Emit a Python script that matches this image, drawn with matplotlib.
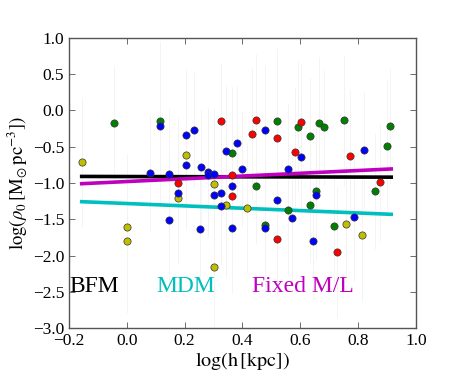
import matplotlib
matplotlib.use("Agg")
import matplotlib.pyplot as plt

plt.rcParams["font.family"] = "serif"
plt.rcParams["font.serif"] = ["Liberation Serif", "DejaVu Serif"]
plt.rcParams["mathtext.fontset"] = "stix"

# log(h [kpc]) and log(rho0) per galaxy, grouped by marker colour
yel_x = [-0.154, 0.206, 0.177, 0.002, 0.002, 0.302, 0.344, 0.416, 0.302, 0.758, 0.814]
yel_y = [-0.71, -0.614, -1.211, -1.603, -1.796, -1.014, -1.308, -1.345, -2.154, -1.570, -1.721]
yel_e = [0.9, 0.8, 0.9, 1.0, 1.0, 0.9, 1.0, 0.9, 1.0, 0.8, 0.9]

grn_x = [-0.045, 0.115, 0.364, 0.521, 0.593, 0.448, 0.558, 0.634, 0.664, 0.683,
         0.750, 0.910, 0.900, 0.859, 0.655, 0.634, 0.478, 0.717]
grn_y = [-0.172, -0.141, -0.582, -0.141, -0.224, -1.037, -1.368, -0.356, -0.168, -0.224,
         -0.138, -0.214, -0.486, -1.110, -1.111, -1.306, -1.583, -1.589]
grn_e = [0.8, 1.1, 0.9, 1.0, 0.9, 0.8, 0.9, 0.8, 0.9, 0.8,
         0.9, 0.8, 0.9, 0.8, 0.9, 0.8, 0.9, 0.8]

red_x = [0.177, 0.325, 0.448, 0.604, 0.433, 0.521, 0.581, 0.364, 0.364, 0.520,
         0.773, 0.877, 0.727]
red_y = [-1.0, -0.152, -0.127, -0.159, -0.321, -0.376, -0.579, -0.890, -1.179, -1.772,
         -0.623, -0.993, -1.956]
red_e = [0.9, 0.8, 0.9, 0.8, 0.9, 0.8, 0.9, 0.8, 0.9, 0.8, 0.9, 0.8, 0.9]

blu_x = [0.115, 0.206, 0.232, 0.206, 0.080, 0.147, 0.177, 0.147, 0.256, 0.281,
         0.281, 0.302, 0.302, 0.325, 0.325, 0.344, 0.382, 0.364, 0.400, 0.364,
         0.255, 0.479, 0.520, 0.558, 0.604, 0.570, 0.478, 0.655, 0.645, 0.787, 0.821]
blu_y = [-0.214, -0.334, -0.269, -0.752, -0.866, -0.872, -1.142, -1.510, -0.786, -0.848,
         -0.886, -0.872, -1.170, -1.142, -1.313, -0.559, -0.452, -1.048, -0.811, -1.621,
         -1.639, -0.276, -1.241, -0.807, -0.648, -1.483, -1.621, -1.161, -1.796, -1.469, -0.545]
blu_e = [1.1, 0.9, 0.8, 0.9, 0.8, 0.9, 0.8, 0.9, 0.8, 0.9,
         0.8, 0.9, 0.8, 0.9, 0.8, 0.9, 0.8, 0.9, 0.8, 0.9,
         0.8, 0.9, 0.8, 0.9, 0.8, 0.9, 0.8, 0.9, 0.8, 0.9, 0.8]

# fitted relations (end points)
fit_x = [-0.156, 0.915]
bfm_y = [-0.91, -0.92]
mdm_y = [-1.258, -1.432]
fml_y = [-1.01, -0.807]

fig = plt.figure(figsize=(4.63, 3.86), dpi=100)
ax = fig.add_axes([0.149, 0.150, 0.749, 0.752])

groups = [(yel_x, yel_y, yel_e, "y"), (grn_x, grn_y, grn_e, "g"),
          (red_x, red_y, red_e, "r"), (blu_x, blu_y, blu_e, "b")]
for xs, ys, es, c in groups:
    ax.errorbar(xs, ys, yerr=es, fmt="none", ecolor="#f3f3f3", elinewidth=0.6, zorder=1)

ax.plot(fit_x, bfm_y, color="k", lw=2.6, zorder=2)
ax.plot(fit_x, mdm_y, color="c", lw=2.6, zorder=2)
ax.plot(fit_x, fml_y, color="m", lw=2.6, zorder=2)

for xs, ys, es, c in groups:
    ax.plot(xs, ys, "o", color=c, ms=5.2, mec="#333333", mew=0.5, zorder=3)

ax.text(-0.197, -2.5, "BFM", color="k", fontsize=17)
ax.text(0.103, -2.5, "MDM", color="c", fontsize=17)
ax.text(0.435, -2.5, "Fixed M/L", color="m", fontsize=17)

ax.set_xlim(-0.2, 1.0)
ax.set_ylim(-3.0, 1.0)
ax.set_xticks([-0.2, 0.0, 0.2, 0.4, 0.6, 0.8, 1.0])
ax.set_yticks([-3.0, -2.5, -2.0, -1.5, -1.0, -0.5, 0.0, 0.5, 1.0])
ax.tick_params(direction="in", top=True, right=True, length=4, width=0.6,
               color="#555555", labelsize=12.5)
for s in ax.spines.values():
    s.set_color("#555555")
    s.set_linewidth(1.0)

ax.set_xlabel(r"$\log(\mathrm{h\,[kpc]})$", fontsize=14.5, labelpad=1)
ax.set_ylabel(r"$\log(\rho_0\,[\mathrm{M_{\odot}\,pc^{-3}}])$", fontsize=13.5, labelpad=2)

fig.savefig("out.png", dpi=100)
